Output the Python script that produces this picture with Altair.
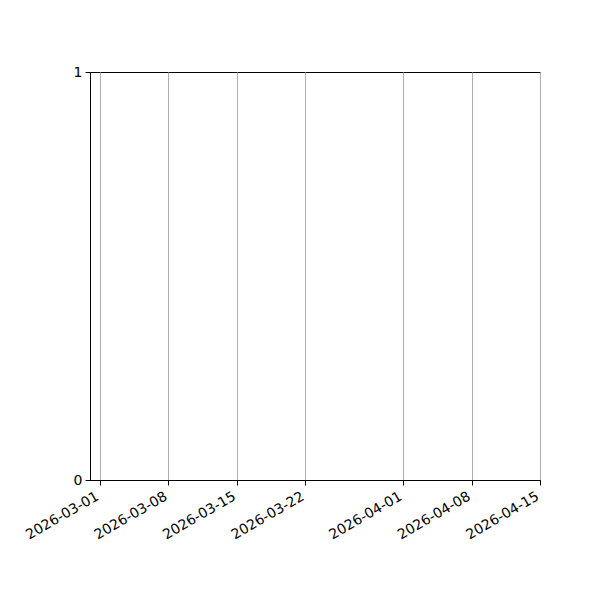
import altair as alt
import pandas as pd

# Tick dates on the x axis (the plotted series is empty)
tick_dates = [(2026, 3, 1), (2026, 3, 8), (2026, 3, 15), (2026, 3, 22),
              (2026, 4, 1), (2026, 4, 8), (2026, 4, 15)]
x_domain = [(2026, 2, 28), (2026, 4, 15)]
y_domain = [0, 1]
y_ticks = [0, 1]

def dt(t):
    return alt.DateTime(year=t[0], month=t[1], date=t[2], utc=True)

df = pd.DataFrame({
    "date": ["%04d-%02d-%02d" % t for t in tick_dates],
    "value": [0] * len(tick_dates),
})

font = "DejaVu Sans"

chart = alt.Chart(df).mark_point(opacity=0).encode(
    x=alt.X("date:T",
            scale=alt.Scale(type="utc", domain=[dt(t) for t in x_domain], nice=False),
            axis=alt.Axis(values=[dt(t) for t in tick_dates],
                          labelExpr="utcFormat(datum.value, '%Y-%m-%d')",
                          title=None, labelAngle=-30,
                          labelAlign="right", labelBaseline="top",
                          grid=True, gridColor="#b0b0b0", gridWidth=1,
                          labelPadding=4, labelOffset=-6)),
    y=alt.Y("value:Q",
            scale=alt.Scale(domain=y_domain, nice=False, zero=False),
            axis=alt.Axis(values=y_ticks, format="d", title=None, grid=False,
                          labelPadding=3)),
).properties(
    width=450, height=408,
    autosize=alt.AutoSizeParams(type="none"),
    padding={"left": 82, "top": 64, "right": 50, "bottom": 100},
).configure_view(
    stroke="black", strokeWidth=1,
).configure_axis(
    domainColor="black", domainWidth=1, tickColor="black", tickSize=5,
    tickWidth=1, labelFont=font, labelFontSize=14, labelColor="black",
    labelFlush=False, labelOverlap=False,
)

chart.save("out.html", embed_options={"renderer": "svg", "actions": False})
